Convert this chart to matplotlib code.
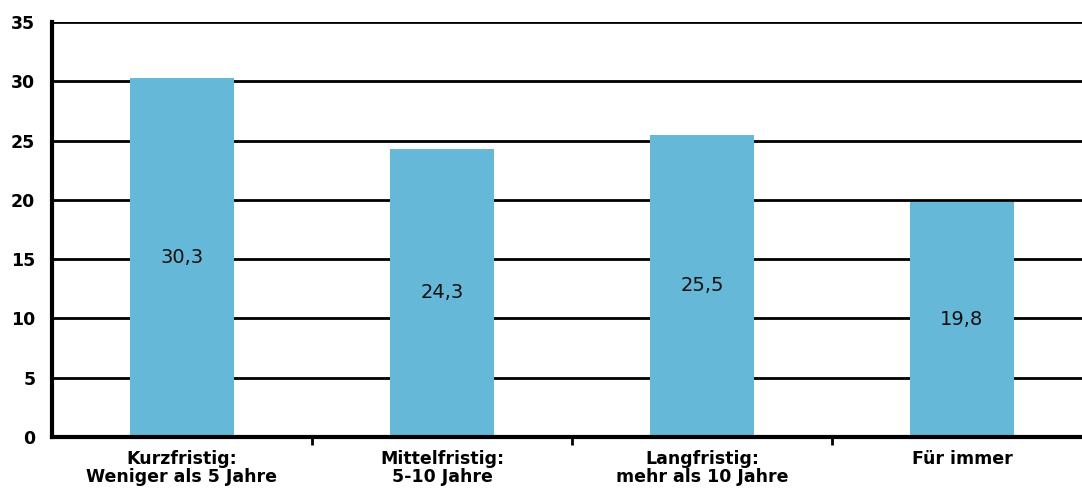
import numpy as np
from matplotlib import pyplot as plt

categories = ["Kurzfristig:\nWeniger als 5 Jahre", "Mittelfristig:\n5-10 Jahre",
              "Langfristig:\nmehr als 10 Jahre", "Für immer"]
values = [30.3, 24.3, 25.5, 19.8]
value_labels = ["30,3", "24,3", "25,5", "19,8"]
y_ticks = [0, 5, 10, 15, 20, 25, 30, 35]

fig = plt.figure(figsize=(10.82, 4.88), dpi=100)
ax = fig.add_axes([52 / 1082, 51 / 488, 1 - 52 / 1082, (437 - 22) / 488])

x = np.arange(len(categories))
ax.bar(x, values, width=0.4, color="#66b8d8", zorder=3)

for xi, v, lab in zip(x, values, value_labels):
    ax.text(xi, v / 2, lab, ha="center", va="center", fontsize=14, color="#111111", zorder=4)

ax.set_ylim(0, 35)
ax.set_xlim(-0.5, 3.5 - 10 / 260)
ax.set_yticks(y_ticks)
ax.set_yticklabels([str(t) for t in y_ticks], fontsize=12.5, fontweight="bold")
ax.yaxis.grid(True, color="black", linewidth=2, zorder=1)
ax.tick_params(axis="y", length=0, pad=12)

# category labels centered, ticks at category borders
ax.set_xticks(x)
ax.set_xticklabels(categories, fontsize=12.5, fontweight="bold", linespacing=1.0)
ax.tick_params(axis="x", length=0, pad=9)
ax.set_xticks(np.arange(len(categories) - 1) + 0.5, minor=True)
ax.tick_params(axis="x", which="minor", length=6, width=2, color="black", direction="out")

for side in ["top", "right"]:
    ax.spines[side].set_visible(False)
ax.spines["left"].set_linewidth(3)
ax.spines["bottom"].set_linewidth(3)
ax.spines["bottom"].set_zorder(5)

fig.savefig("out.png", dpi=100)
